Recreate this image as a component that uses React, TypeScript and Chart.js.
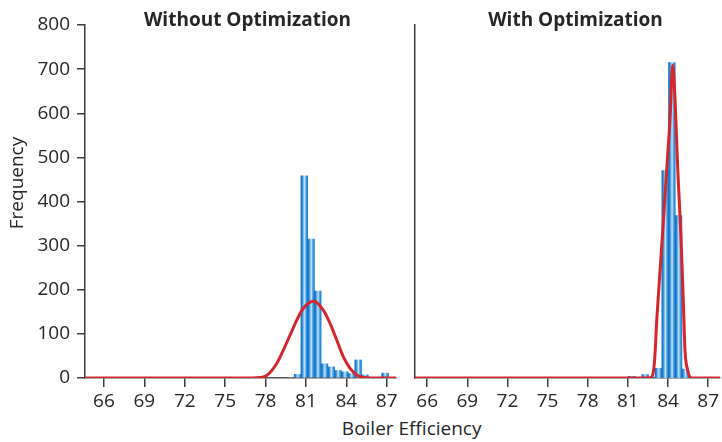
import React, { useEffect, useRef } from "react";
import { Chart, registerables } from "chart.js";

Chart.register(...registerables);

// ---------- data ----------
const X_TICKS = [66, 69, 72, 75, 78, 81, 84, 87];
const Y_TICKS = [0, 100, 200, 300, 400, 500, 600, 700, 800];

const PANEL_TITLES = ["Without Optimization", "With Optimization"];
const X_TITLE = "Boiler Efficiency";
const Y_TITLE = "Frequency";

// Without optimization: histogram bins (centres) and counts
const WITHOUT_BINS = [79.88, 80.38, 80.88, 81.38, 81.88, 82.38, 82.88, 83.38, 83.88, 84.38, 84.88, 85.38, 85.88, 86.38, 86.88, 87.38];
const WITHOUT_COUNTS = [0, 8, 458, 315, 197, 32, 25, 17, 14, 10, 41, 7, 0, 0, 11, 0];
// Without optimization: fitted curve points
const WITHOUT_FIT_X = [64.59, 77.0, 77.6, 78.1, 78.83, 79.32, 79.82, 80.32, 80.81, 81.55, 82.29, 82.79, 83.29, 83.78, 84.28, 84.77, 85.26, 85.8, 87.69];
const WITHOUT_FIT_Y = [0, 0, 1, 6, 33, 63, 97, 131, 158, 174, 154, 124, 86, 48, 22, 7, 1, 0, 0];

// With optimization
const WITH_BINS = [80.79, 81.29, 81.79, 82.29, 82.79, 83.29, 83.79, 84.29, 84.79, 85.29, 85.79];
const WITH_COUNTS = [0, 4, 0, 8, 0, 22, 470, 715, 368, 20, 0];
const WITH_FIT_X = [65.09, 82.55, 82.8, 83.0, 83.16, 83.41, 83.66, 83.9, 84.16, 84.35, 84.53, 84.72, 84.97, 85.15, 85.27, 85.47, 85.76, 87.9];
const WITH_FIT_Y = [0, 0, 3, 40, 131, 245, 358, 471, 592, 709, 630, 479, 320, 169, 63, 18, 0, 0];

const X_RANGE_WITHOUT = [64.59, 87.69];
const X_RANGE_WITH = [65.09, 87.9];
const Y_MAX = 800;
const BIN_WIDTH = 0.5;

// ---------- style ----------
const FONT = "'Open Sans', sans-serif";
const TEXT = "#262626";
const AXIS = "#3c3c3c";
const RED = "#d5262e";

function barFill(ctx: any) {
  const chart = ctx.chart;
  if (ctx.type !== "data" || !chart.scales || !chart.scales.x) return "#3f97dc";
  const xs = chart.scales.x;
  const raw = ctx.raw as { x: number; y: number };
  const l = xs.getPixelForValue(raw.x - BIN_WIDTH / 2);
  const r = xs.getPixelForValue(raw.x + BIN_WIDTH / 2);
  if (!isFinite(l) || !isFinite(r) || r <= l) return "#3f97dc";
  const g = chart.ctx.createLinearGradient(l, 0, r, 0);
  g.addColorStop(0, "#106ebf");
  g.addColorStop(0.18, "#2484d3");
  g.addColorStop(0.4, "#86c2ee");
  g.addColorStop(0.55, "#c6e3f8");
  g.addColorStop(0.72, "#5ea9e6");
  g.addColorStop(1, "#157ccd");
  return g;
}

function makeConfig(
  bins: number[],
  counts: number[],
  fitX: number[],
  fitY: number[],
  xRange: number[],
  showYLabels: boolean
): any {
  return {
    type: "bar",
    data: {
      datasets: [
        {
          type: "line",
          data: fitX.map((x, i) => ({ x, y: fitY[i] })),
          borderColor: RED,
          borderWidth: 3,
          pointRadius: 0,
          cubicInterpolationMode: "monotone",
          fill: false,
          order: 0,
        },
        {
          type: "bar",
          data: bins.map((x, i) => ({ x, y: counts[i] })),
          backgroundColor: barFill,
          borderWidth: 0,
          barPercentage: 1,
          categoryPercentage: 1,
          order: 1,
        },
      ],
    },
    options: {
      responsive: false,
      animation: false,
      layout: showYLabels
        ? { padding: { top: 25, right: 9, bottom: 0, left: 0 } }
        : { padding: { top: 25, right: 0, bottom: 0, left: 10 } },
      plugins: {
        legend: { display: false },
        tooltip: { enabled: false },
        title: { display: false },
      },
      scales: {
        x: {
          type: "linear",
          min: xRange[0],
          max: xRange[1],
          offset: false,
          afterBuildTicks: (s: any) => {
            s.ticks = X_TICKS.map((v) => ({ value: v }));
          },
          afterFit: (s: any) => {
            s.height = 37;
          },
          ticks: {
            autoSkip: false,
            maxRotation: 0,
            padding: 3,
            color: TEXT,
            font: { family: FONT, size: 19 },
            callback: (v: any) => String(v),
          },
          grid: {
            display: true,
            drawOnChartArea: false,
            drawTicks: true,
            tickLength: 9,
            color: AXIS,
            lineWidth: 1.5,
            offset: false,
          },
          border: { display: true, color: "#555555", width: 1.5 },
        },
        y: {
          type: "linear",
          min: 0,
          max: Y_MAX,
          afterBuildTicks: (s: any) => {
            s.ticks = Y_TICKS.map((v) => ({ value: v }));
          },
          afterFit: (s: any) => {
            s.width = showYLabels ? 85 : 0;
          },
          ticks: {
            display: showYLabels,
            padding: 7,
            color: TEXT,
            font: { family: FONT, size: 19 },
          },
          grid: {
            display: showYLabels,
            drawOnChartArea: false,
            drawTicks: true,
            tickLength: 8,
            color: AXIS,
            lineWidth: 1.5,
          },
          border: { display: true, color: AXIS, width: 1.5 },
        },
      },
    },
  };
}

function Panel(props: { cfg: any; left: number; width: number; height: number }) {
  const ref = useRef<HTMLCanvasElement | null>(null);
  useEffect(() => {
    if (!ref.current) return;
    const chart = new Chart(ref.current, props.cfg);
    return () => chart.destroy();
  }, []);
  return (
    <canvas
      ref={ref}
      width={props.width}
      height={props.height}
      style={{ position: "absolute", left: props.left, top: 0, width: props.width, height: props.height, display: "block" }}
    />
  );
}

export default function App() {
  const leftCfg = makeConfig(WITHOUT_BINS, WITHOUT_COUNTS, WITHOUT_FIT_X, WITHOUT_FIT_Y, X_RANGE_WITHOUT, true);
  const rightCfg = makeConfig(WITH_BINS, WITH_COUNTS, WITH_FIT_X, WITH_FIT_Y, X_RANGE_WITH, false);
  const titleStyle: React.CSSProperties = {
    position: "absolute",
    top: 7,
    width: 300,
    height: 24,
    lineHeight: "24px",
    textAlign: "center",
    fontFamily: FONT,
    fontWeight: 700,
    fontSize: 19,
    color: TEXT,
    whiteSpace: "nowrap",
  };
  const axisTitleStyle: React.CSSProperties = {
    position: "absolute",
    height: 24,
    lineHeight: "24px",
    textAlign: "center",
    fontFamily: FONT,
    fontSize: 19,
    color: TEXT,
    whiteSpace: "nowrap",
  };
  return (
    <div style={{ position: "absolute", left: 0, top: 0, width: 722, height: 442, background: "#ffffff", overflow: "hidden" }}>
      <Panel cfg={leftCfg} left={0} width={405} height={415} />
      <Panel cfg={rightCfg} left={405} width={317} height={415} />
      <div style={{ ...titleStyle, left: 247.5 - 150 }}>{PANEL_TITLES[0]}</div>
      <div style={{ ...titleStyle, left: 575.5 - 150 }}>{PANEL_TITLES[1]}</div>
      <div style={{ ...axisTitleStyle, left: 311.7, top: 416, width: 200 }}>{X_TITLE}</div>
      <div
        style={{
          ...axisTitleStyle,
          left: 16 - 60,
          top: 182.5 - 12,
          width: 120,
          transform: "rotate(-90deg)",
        }}
      >
        {Y_TITLE}
      </div>
    </div>
  );
}
